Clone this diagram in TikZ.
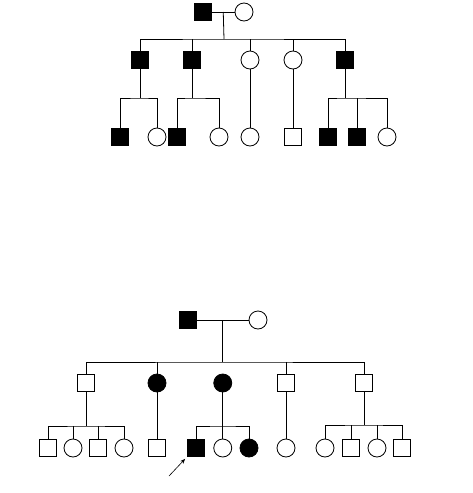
\documentclass[tikz,border=0pt]{standalone}
\usepackage{tikz}
\usetikzlibrary{arrows.meta,calc,positioning}

\begin{document}
\begin{tikzpicture}[x=1pt,y=-1pt,line width=0.8pt,
  male/.style={draw, rectangle, minimum size=17pt, inner sep=0pt},
  female/.style={draw, circle, minimum size=18pt, inner sep=0pt},
  aff/.style={fill=black}]
  \useasboundingbox (0,0) rectangle (472,493);

  % ---------- upper pedigree ----------
  \node[male,aff] (tI1) at (203,12) {};
  \node[female]   (tI2) at (244,12) {};
  \draw (tI1) -- (tI2);
  \coordinate (tm) at ($(tI1.east)!0.5!(tI2.west)$);
  \coordinate (ts) at (224,39);
  \draw (tm) -- (ts);

  \node[male,aff] (tII1) at (140,60) {};
  \node[male,aff] (tII2) at (192,60) {};
  \node[female]   (tII3) at (250,60) {};
  \node[female]   (tII4) at (293,60) {};
  \node[male,aff] (tII5) at (345,60) {};
  \draw (tII1) |- (ts) -| (tII5);
  \foreach \n in {tII2,tII3,tII4}
    \draw (\n) -- (\n |- ts);

  \node[male,aff] (tIII1) at (120,137) {};
  \node[female]   (tIII2) at (157,137) {};
  \node[male,aff] (tIII3) at (177,137) {};
  \node[female]   (tIII4) at (219,137) {};
  \node[female]   (tIII5) at (250,137) {};
  \node[male]     (tIII6) at (293,137) {};
  \node[male,aff] (tIII7) at (328,137) {};
  \node[male,aff] (tIII8) at (357,137) {};
  \node[female]   (tIII9) at (387,137) {};

  % sibships of generation III
  \coordinate (ta) at (140,98);
  \coordinate (tb) at (192,98);
  \coordinate (tc) at (345,98);
  \draw (tII1) -- (ta);
  \draw (tIII1) |- (ta) -| (tIII2);
  \draw (tII2) -- (tb);
  \draw (tIII3) |- (tb) -| (tIII4);
  \draw (tII3) -- (tIII5);
  \draw (tII4) -- (tIII6);
  \draw (tII5) -- (tc);
  \draw (tIII7) |- (tc) -| (tIII9);
  \draw (tIII8) -- (tIII8 |- tc);

  % ---------- lower pedigree ----------
  \node[male,aff] (bI1) at (188,320) {};
  \node[female]   (bI2) at (258,320) {};
  \draw (bI1) -- (bI2);
  \coordinate (bm) at ($(bI1.east)!0.5!(bI2.west)$);
  \coordinate (bs) at (bm |- 0,362);
  \draw (bm) -- (bs);

  \node[male]       (bII1) at (86,383) {};
  \node[female,aff] (bII2) at (157,383) {};
  \node[female,aff] (bII3) at (bs |- 0,383) {};
  \node[male]       (bII4) at (286,383) {};
  \node[male]       (bII5) at (364,383) {};
  \draw (bII1) |- (bs) -| (bII5);
  \foreach \n in {bII2,bII4}
    \draw (\n) -- (\n |- bs);

  \node[male]       (bIII1) at (48,448) {};
  \node[female]     (bIII2) at (73,448) {};
  \node[male]       (bIII3) at (98,448) {};
  \node[female]     (bIII4) at (124,448) {};
  \node[male]       (bIII5) at (157,448) {};
  \node[male,aff]   (bIII6) at (196,448) {};
  \node[female]     (bIII7) at (bII3 |- 0,448) {};
  \node[female,aff] (bIII8) at (249,448) {};
  \node[female]     (bIII9) at (286,448) {};
  \node[female]     (bIII10) at (325,448) {};
  \node[male]       (bIII11) at (351,448) {};
  \node[female]     (bIII12) at (377,448) {};
  \node[male]       (bIII13) at (402,448) {};

  % sibships of generation III
  \coordinate (ba) at (86,426);
  \coordinate (bb) at (bII3 |- 0,426);
  \coordinate (bc) at (364,425);
  \draw (bII1) -- (ba);
  \draw (bIII1) |- (ba) -| (bIII4);
  \foreach \n in {bIII2,bIII3}
    \draw (\n) -- (\n |- ba);
  \draw (bII2) -- (bIII5);
  \draw (bII3) -- (bIII7);
  \draw (bIII6) |- (bb) -| (bIII8);
  \draw (bII4) -- (bIII9);
  \draw (bII5) -- (bc);
  \draw (bIII10) |- (bc) -| (bIII13);
  \foreach \n in {bIII11,bIII12}
    \draw (\n) -- (\n |- bc);

  % proband
  \coordinate (arr) at (169,476);
  \draw[line width=0.6pt,-{Stealth[length=5pt,width=4pt]}] (arr) -- ($(bIII6.south west)+(-2,2)$);
\end{tikzpicture}
\end{document}
